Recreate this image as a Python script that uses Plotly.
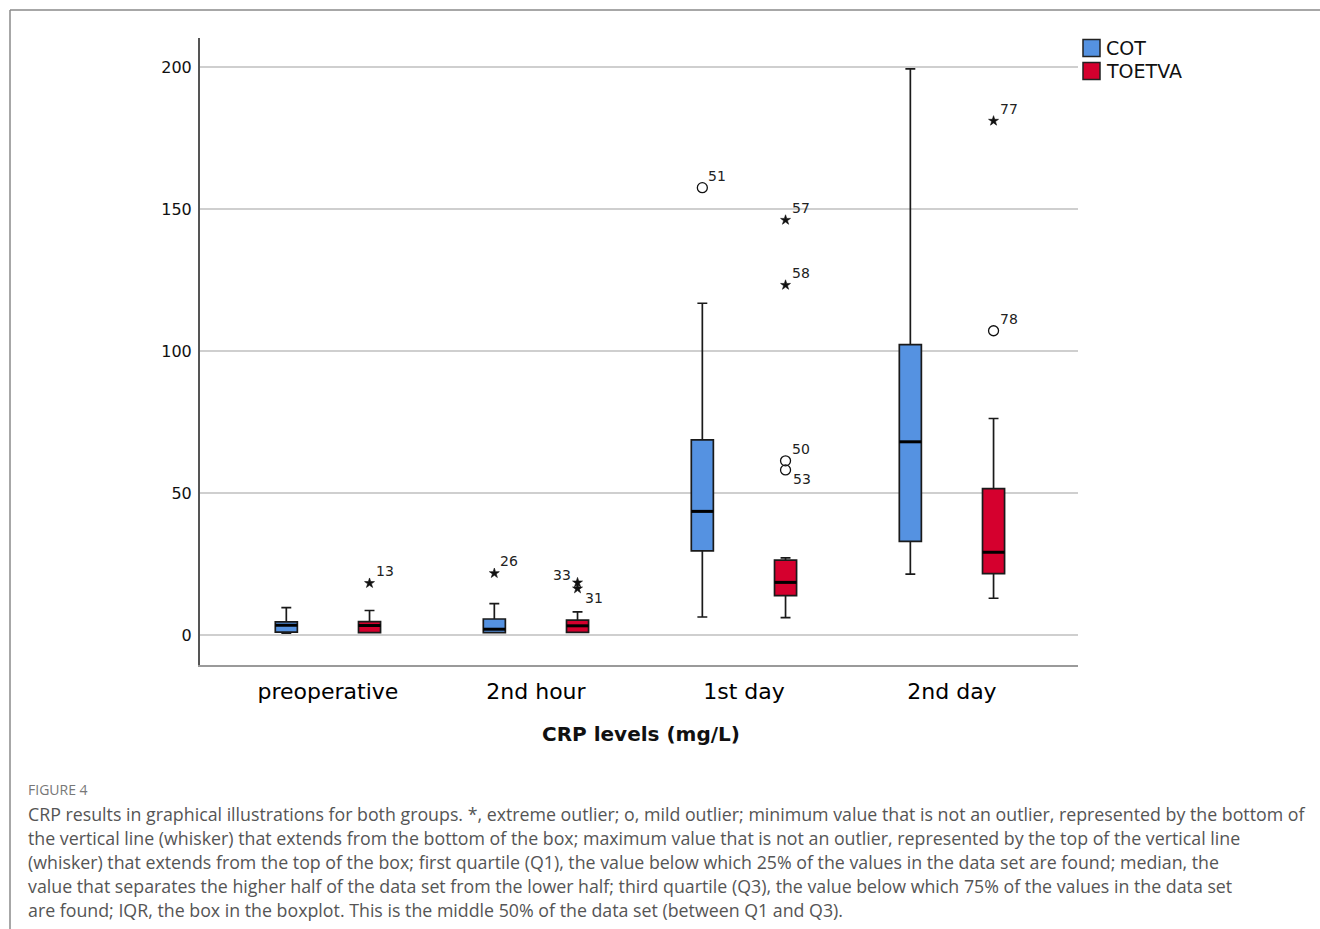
import plotly.graph_objects as go

# ---- data (CRP, mg/L) ----
categories = ["preoperative", "2nd hour", "1st day", "2nd day"]
groups = ["COT", "TOETVA"]

cot_low = [0.6, 0.8, 6.3, 21.4]
cot_q1 = [1.0, 0.8, 29.6, 32.9]
cot_median = [3.4, 2.0, 43.5, 68.0]
cot_q3 = [4.6, 5.6, 68.7, 102.2]
cot_high = [9.6, 11.0, 116.8, 199.3]

toetva_low = [0.8, 0.9, 6.1, 12.9]
toetva_q1 = [0.8, 0.9, 13.8, 21.6]
toetva_median = [3.3, 3.2, 18.5, 29.1]
toetva_q3 = [4.7, 5.2, 26.3, 51.5]
toetva_high = [8.6, 8.1, 27.1, 76.2]

# outliers: group, category index, value, case number, kind, label side
out_group = ["TOETVA", "COT", "TOETVA", "TOETVA", "COT", "TOETVA", "TOETVA", "TOETVA", "TOETVA", "TOETVA", "TOETVA"]
out_cat = [0, 1, 1, 1, 2, 2, 2, 2, 2, 3, 3]
out_value = [18.2, 21.7, 18.4, 16.3, 157.5, 146.1, 123.2, 61.3, 58.1, 181.0, 107.1]
out_case = ["13", "26", "33", "31", "51", "57", "58", "50", "53", "77", "78"]
out_kind = ["extreme", "extreme", "extreme", "extreme", "mild", "extreme", "extreme", "mild", "mild", "extreme", "mild"]
out_side = ["ur", "ur", "ul", "dr", "ur", "ur", "ur", "ur", "dr", "ur", "ur"]

colors = {"COT": "#5592E1", "TOETVA": "#D5002E"}
offsets = {"COT": -0.2, "TOETVA": 0.2}
box_w = 0.106

W, H = 1320, 929
L, R, T, B = 200, 242, 38, 264
pw, ph = W - L - R, H - T - B


def px(xp):
    return (xp - L) / pw


def py(yp):
    return (H - B - yp) / ph


fig = go.Figure()

stats = {
    "COT": (cot_low, cot_q1, cot_median, cot_q3, cot_high),
    "TOETVA": (toetva_low, toetva_q1, toetva_median, toetva_q3, toetva_high),
}

for g in groups:
    lo, q1, med, q3, hi = stats[g]
    xs = [i + offsets[g] for i in range(len(categories))]
    fig.add_trace(go.Box(
        x=xs, q1=q1, median=med, q3=q3, lowerfence=lo, upperfence=hi,
        width=box_w, whiskerwidth=0.45, boxpoints=False, name=g,
        fillcolor=colors[g], line=dict(color="#1a1a1a", width=1.7),
        showlegend=False, hoverinfo="skip",
    ))
    # thicker median bars
    mx, my = [], []
    for x, m in zip(xs, med):
        mx += [x - box_w / 2, x + box_w / 2, None]
        my += [m, m, None]
    fig.add_trace(go.Scatter(x=mx, y=my, mode="lines",
                             line=dict(color="#000", width=3),
                             showlegend=False, hoverinfo="skip"))

# outlier markers
for kind, sym, size, lw in [("extreme", "star", 7.5, 0.6), ("mild", "circle-open", 10, 1.3)]:
    xs, ys = [], []
    for g, c, v, k in zip(out_group, out_cat, out_value, out_kind):
        if k == kind:
            xs.append(c + offsets[g])
            ys.append(v)
    fig.add_trace(go.Scatter(
        x=xs, y=ys, mode="markers",
        marker=dict(symbol=sym, size=size, color="#111",
                    line=dict(color="#111", width=lw)),
        showlegend=False, hoverinfo="skip",
    ))

# case-number labels
for g, c, v, lab, side in zip(out_group, out_cat, out_value, out_case, out_side):
    dx, dy, xa = {"ur": (4, 12, "left"), "ul": (-5, 8, "right"),
                  "dr": (5, -9, "left")}[side]
    fig.add_annotation(x=c + offsets[g], y=v, xref="x", yref="y", text=lab,
                       showarrow=False, xanchor=xa, yanchor="middle",
                       xshift=dx, yshift=dy,
                       font=dict(family="DejaVu Sans", size=14, color="#222"))

fig.update_layout(
    width=W, height=H,
    margin=dict(l=L, r=R, t=T, b=B),
    paper_bgcolor="white", plot_bgcolor="white",
    showlegend=False,
    xaxis=dict(range=[-0.615, 3.606], tickvals=list(range(len(categories))),
               ticktext=categories, showgrid=False, zeroline=False,
               showline=True, linecolor="#9a9a9a", linewidth=2, ticks="",
               ticklabelstandoff=6,
               tickfont=dict(family="DejaVu Sans", size=22, color="#000")),
    yaxis=dict(range=[-10.6, 210.2], tickvals=[0, 50, 100, 150, 200],
               showgrid=True, gridcolor="#cfcfcf", gridwidth=2,
               zeroline=False, showline=True, linecolor="#555", linewidth=2,
               ticks="", ticklabelstandoff=3,
               tickfont=dict(family="DejaVu Sans", size=16, color="#111")),
)

# group key (top right)
for i, g in enumerate(groups):
    yc = 48 + 23 * i
    fig.add_shape(type="rect", xref="paper", yref="paper",
                  x0=px(1083), x1=px(1100), y0=py(yc - 8.5), y1=py(yc + 8.5),
                  fillcolor=colors[g], line=dict(color="#222", width=1.5))
    fig.add_annotation(x=px(1104), y=py(yc), xref="paper", yref="paper",
                       text=g, showarrow=False, xanchor="left",
                       yanchor="middle",
                       font=dict(family="DejaVu Sans", size=19, color="#111"))

fig.add_annotation(x=px(641), y=py(734), xref="paper", yref="paper",
                   text="<b>CRP levels (mg/L)</b>", showarrow=False,
                   xanchor="center", yanchor="middle",
                   font=dict(family="DejaVu Sans", size=20, color="#111"))

# figure frame
fig.add_shape(type="line", xref="paper", yref="paper", x0=px(10), x1=px(1320),
              y0=py(10), y1=py(10), line=dict(color="#8a8a8a", width=1.5))
fig.add_shape(type="line", xref="paper", yref="paper", x0=px(10), x1=px(10),
              y0=py(10), y1=py(929), line=dict(color="#8a8a8a", width=1.5))

# caption
fig.add_annotation(x=px(26), y=py(790), xref="paper", yref="paper",
                   text="FIGURE 4", showarrow=False, xanchor="left",
                   yanchor="middle",
                   font=dict(family="Open Sans", size=14, color="#777"))

caption_lines = [
    "CRP results in graphical illustrations for both groups. *, extreme outlier; o, mild outlier; minimum value that is not an outlier, represented by the bottom of",
    "the vertical line (whisker) that extends from the bottom of the box; maximum value that is not an outlier, represented by the top of the vertical line",
    "(whisker) that extends from the top of the box; first quartile (Q1), the value below which 25% of the values in the data set are found; median, the",
    "value that separates the higher half of the data set from the lower half; third quartile (Q3), the value below which 75% of the values in the data set",
    "are found; IQR, the box in the boxplot. This is the middle 50% of the data set (between Q1 and Q3).",
]
for i, line in enumerate(caption_lines):
    fig.add_annotation(x=px(26), y=py(814 + 24 * i), xref="paper", yref="paper",
                       text=line, showarrow=False, xanchor="left",
                       yanchor="middle",
                       font=dict(family="Open Sans", size=17.8, color="#555"))

fig.write_html("out.html")
